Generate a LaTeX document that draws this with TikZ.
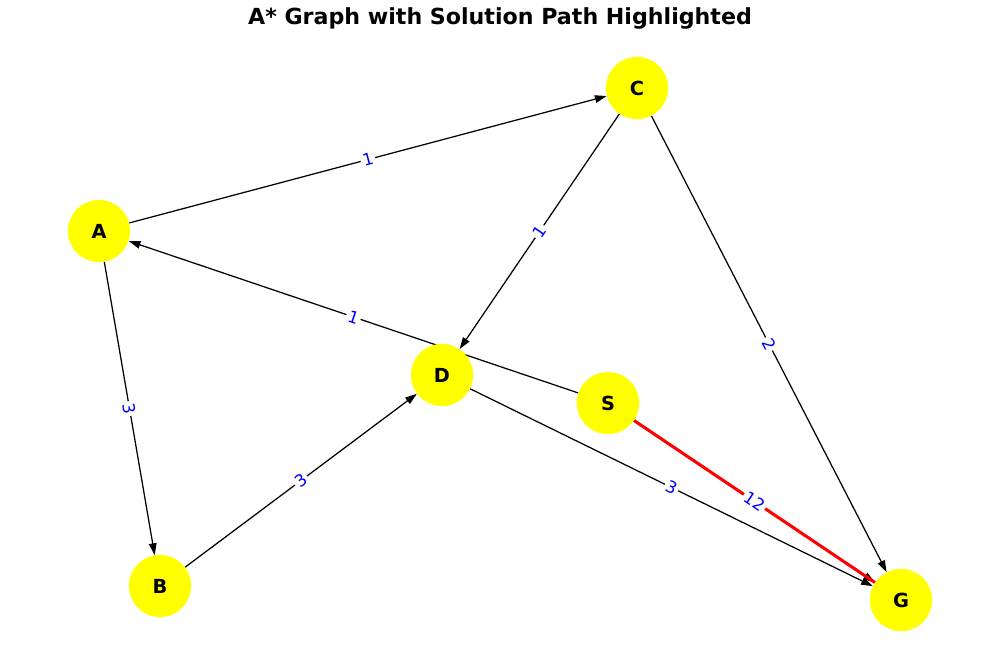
\documentclass[tikz,border=0pt]{standalone}
\usepackage{fontspec}
\setmainfont{DejaVu Sans}
\usetikzlibrary{arrows.meta,backgrounds}
\definecolor{nodefill}{RGB}{255,255,0}
\definecolor{pathred}{RGB}{255,0,0}
\definecolor{costblue}{RGB}{0,0,255}

\begin{document}
\begin{tikzpicture}[x=0.0254cm,y=-0.0254cm,
  vertex/.style={circle,fill=nodefill,minimum size=1.58cm,inner sep=0pt,font=\fontsize{14}{16}\selectfont\bfseries},
  arc/.style={-{Triangle[length=8.5pt,width=5.5pt]},line width=0.9pt},
  weight/.style={midway,sloped,fill=white,inner sep=1.5pt,text=costblue,font=\fontsize{12}{14}\selectfont}]
\useasboundingbox (0,0) rectangle (1000,666);
\node[font=\fontsize{16}{19}\selectfont\bfseries] (title) at (500,18) {A* Graph with Solution Path Highlighted};
% vertices
\node[vertex] (C) at (637,88) {C};
\node[vertex] (A) at (99,231) {A};
\node[vertex] (D) at (442,375) {D};
\node[vertex] (S) at (608,403) {S};
\node[vertex] (B) at (160,586) {B};
\node[vertex] (G) at (901,600) {G};
% edges with costs
\begin{scope}[on background layer]
\draw[arc] (A) -- (C) node[weight] {1};
\draw[arc] (C) -- (D) node[weight] {1};
\draw[arc] (C) -- (G) node[weight] {2};
\draw[arc] (S) -- (A) node[weight] {1};
\draw[arc] (A) -- (B) node[weight] {3};
\draw[arc] (B) -- (D) node[weight] {3};
\draw[arc] (D) -- (G) node[weight] {3};
\draw[arc] (S) -- (G);
% solution path
\draw[pathred,line width=2.2pt] (S) -- (G) node[weight] {12};
\end{scope}
\end{tikzpicture}
\end{document}
